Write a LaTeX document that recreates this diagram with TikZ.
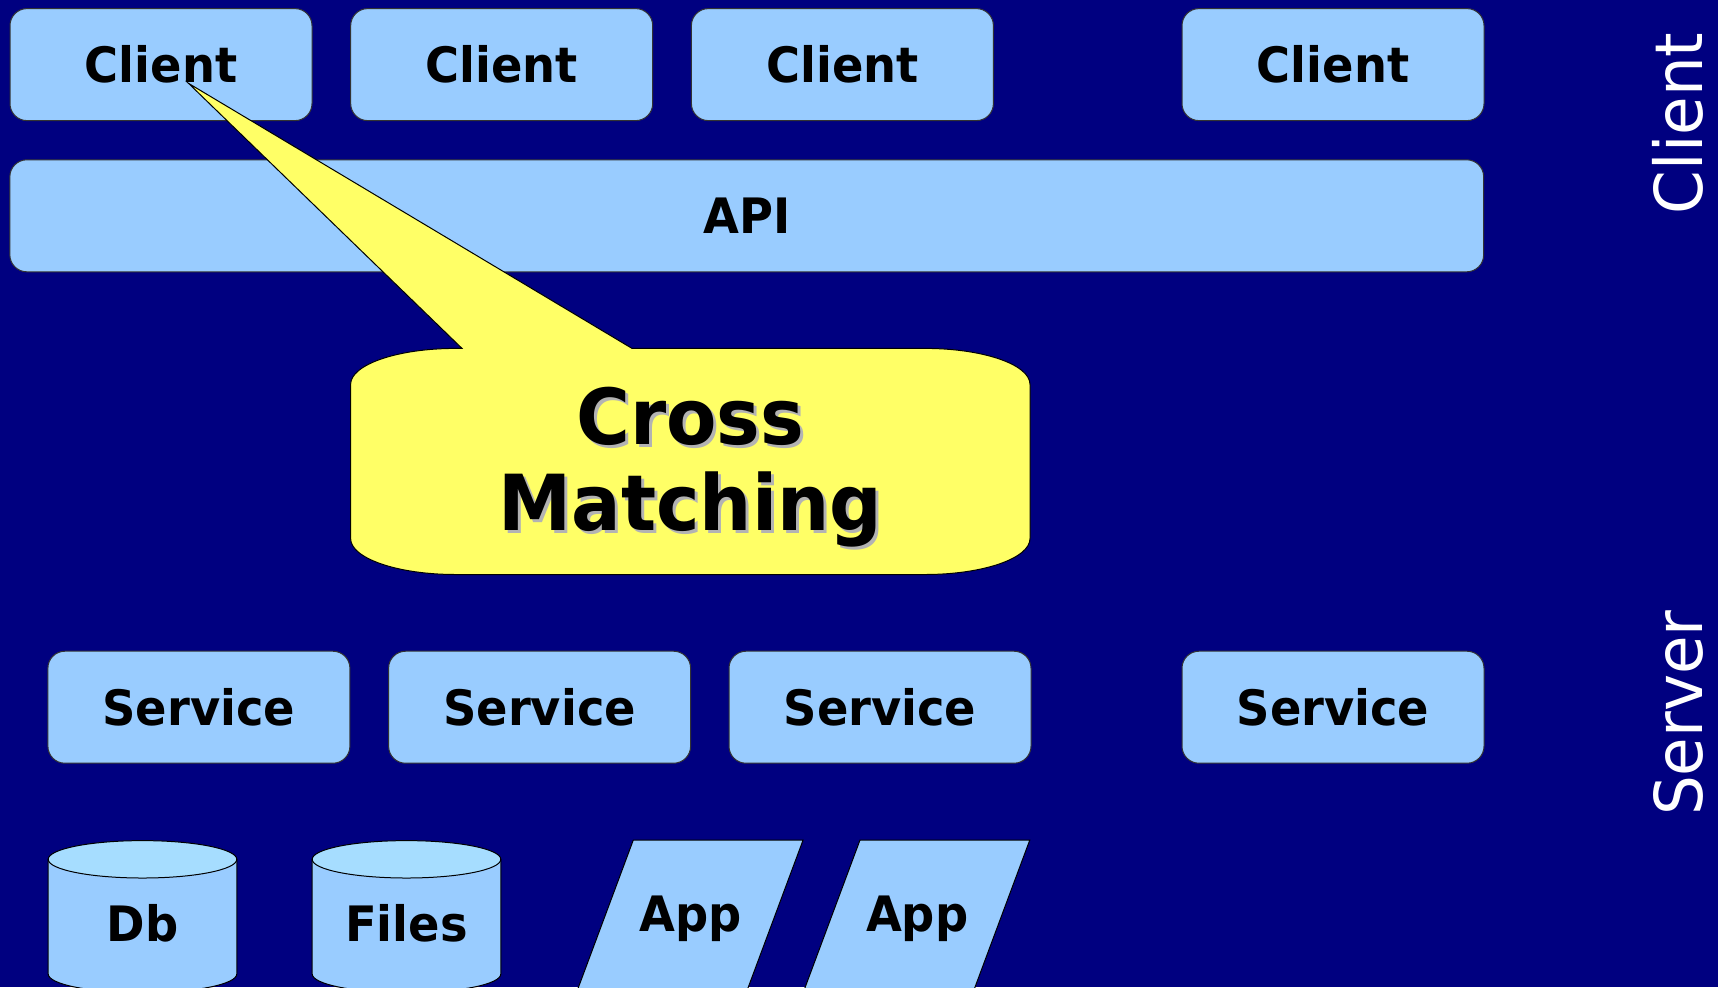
\documentclass[tikz,border=0pt]{standalone}
\usepackage{fontspec}
\setmainfont{DejaVu Sans}[FakeStretch=0.95]
\definecolor{navy}{HTML}{000080}
\definecolor{boxblue}{HTML}{99CCFF}
\definecolor{diskcap}{HTML}{A6DDFF}
\definecolor{calloutyellow}{HTML}{FFFF66}
\definecolor{shadowgray}{HTML}{B3B3B3}
\newcommand{\boxfont}{\fontsize{24.4pt}{29pt}\selectfont\bfseries}
\newcommand{\bigfont}{\fontsize{38.65pt}{43pt}\selectfont\bfseries}
\newcommand{\sidefont}{\fontsize{33pt}{40pt}\selectfont}
\tikzstyle{tier}=[draw=black!80,line width=0.5pt,fill=boxblue,rounded corners=8.5pt,minimum height=56pt,text height=17.8pt,text depth=0pt,inner sep=0pt,font=\boxfont]
\tikzstyle{disk}=[draw=black,line width=0.5pt,fill=boxblue]
\tikzstyle{disktop}=[draw=black,line width=0.5pt,fill=diskcap]
\tikzstyle{slab}=[draw=black,line width=0.5pt,fill=boxblue]
\tikzstyle{bubble}=[draw=black,line width=0.5pt,fill=calloutyellow]
\tikzstyle{bigtext}=[font=\bigfont,inner sep=0pt,anchor=base]
\tikzstyle{sidelabel}=[font=\sidefont,text=white,rotate=90,anchor=base,inner sep=0pt]
\newcommand{\drawdisk}[3]{
\pgfmathsetmacro{\cx}{#2}
\filldraw[disk] (\cx-94.3,859.3) -- (\cx-94.3,974) arc[start angle=180,end angle=360,x radius=47.15pt,y radius=9.35pt] -- (\cx+94.3,859.3) -- cycle;
\filldraw[disktop] (\cx,859.3) ellipse [x radius=47.15pt,y radius=9.35pt];
\node[font=\boxfont,anchor=base,inner sep=0pt] (#1) at (\cx,941) {#3};
}
\newcommand{\shadowlabel}[4]{
\node[bigtext,text=shadowgray] (#1s) at (#2+3,#3+3) {#4};
\node[bigtext] (#1) at (#2,#3) {#4};
}
\begin{document}
\begin{tikzpicture}[x=0.5pt,y=-0.5pt]
  \fill[navy] (0,0) rectangle (1718,987);
  \useasboundingbox (0,0) rectangle (1718,987);
  % client tier
  \foreach \i/\x in {1/161,2/501.7,3/842.4,4/1333}
    \node[tier,minimum width=151pt] (cl\i) at (\x,64.6) {Client};
  \node[tier,minimum width=736.9pt] (api) at (746.75,215.8) {API};
  % callout pointing at the first client
  \coordinate (tip) at (188.5,83.3);
  \filldraw[bubble] (462,348.4) -- (tip) -- (632,348.4) -- (925,348.4)
    arc[start angle=90,end angle=0,x radius=52.5pt,y radius=18pt] -- (1030,538.5)
    arc[start angle=0,end angle=-90,x radius=52.5pt,y radius=18pt] -- (455.6,574.5)
    arc[start angle=270,end angle=180,x radius=52.5pt,y radius=18pt] -- (350.6,384.4)
    arc[start angle=180,end angle=90,x radius=52.5pt,y radius=18pt] -- cycle;
  \shadowlabel{cross}{690.3}{444.5}{Cross}
  \shadowlabel{match}{690.3}{530.5}{Matching}
  % server tier
  \foreach \i/\x in {1/198.9,2/539.6,3/880,4/1333}
    \node[tier,minimum width=151pt] (sv\i) at (\x,707.2) {Service};
  \drawdisk{db}{142.5}{Db}
  \drawdisk{files}{406.5}{Files}
  \foreach \i/\x in {1/633.3,2/860} {
    \filldraw[slab] (\x,840) -- (\x+169.8,840) -- (\x+110.2,1000) -- (\x-59.6,1000) -- cycle;
    \node[font=\boxfont,anchor=base,inner sep=0pt] (app\i) at (\x+57.2,931.7) {App};
  }
  % tier names
  \node[sidelabel] (clientside) at (1702,123.3) {Client};
  \node[sidelabel] (serverside) at (1702,713) {Server};
\end{tikzpicture}
\end{document}
